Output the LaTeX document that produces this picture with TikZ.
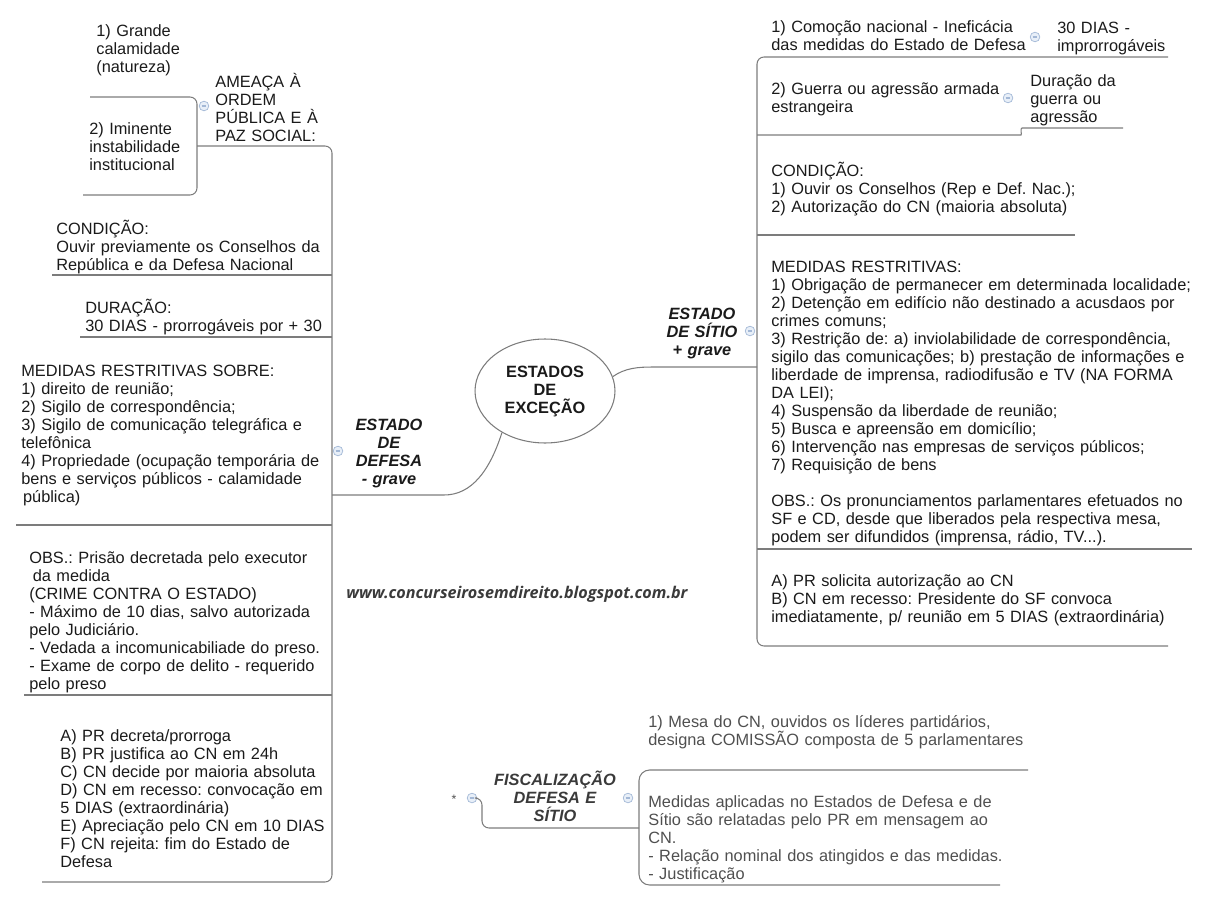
\documentclass[tikz,border=0pt]{standalone}
\usepackage{fontspec}
\setmainfont{Liberation Sans}
\newfontfamily\webfont{Open Sans}
\usetikzlibrary{shapes.geometric}

\definecolor{ink}{HTML}{1A1A1A}
\definecolor{ink2}{HTML}{4F4F4F}
\definecolor{ink3}{HTML}{3A3A3A}
\definecolor{wire}{HTML}{7C7C7C}
\definecolor{foldline}{HTML}{A3B8D6}
\definecolor{foldfill}{HTML}{E8EFF8}

\newcommand{\mmfont}{\fontsize{9.3}{10.24}\selectfont\lineskiplimit=-20pt\frenchspacing}

\begin{document}
\begin{tikzpicture}[x=0.02cm, y=-0.02cm,
    topic/.style={anchor=north west, text width=9cm, align=left, inner sep=0pt,
      font=\mmfont, text=ink, execute at begin node={\rule{0pt}{9pt}}},
    branch/.style={topic, anchor=north, text width=3cm, align=center,
      font=\mmfont\bfseries\itshape},
    fold/.style={circle, draw=foldline, fill=foldfill, line width=0.4pt,
      inner sep=0pt, minimum size=5.5pt, path picture={
        \draw[foldline, line width=0.6pt]
          ([xshift=-1.4pt]path picture bounding box.center) --
          ([xshift=1.4pt]path picture bounding box.center);}},
    link/.style={draw=wire, line width=0.6pt, rounded corners=4pt}]

    \useasboundingbox (0,0) rectangle (1209,902);

    \node[ellipse, draw=wire, line width=0.6pt, minimum width=2.8cm,
      minimum height=2.08cm, inner sep=0pt, align=center,
      font=\mmfont\bfseries, text=ink] (ctr) at (545,391) {ESTADOS\\DE\\EXCEÇÃO};

    % estado de defesa
    \node[branch] (defesa) at (389,414) {ESTADO\\DE\\DEFESA\\- grave};
    \node[fold] (defesaF) at (338,451) {};
    \coordinate (defJ) at (332,495);
    \draw[link] (ctr.224) .. controls (490,470) and (472,495) .. (437,495) -- (defJ);

    \coordinate (defTop) at (332,146);
    \coordinate (defBot) at (332,882);
    \draw[link] (197,146) -- (defTop) -- (defBot) -- (42,882);
    \draw[link] (52,275) -- (332,275);
    \draw[link] (80,337) -- (332,337);
    \draw[link] (16,525) -- (332,525);
    \draw[link] (24,695) -- (332,695);

    \node[topic] (ameaca) at (215,71) {AMEAÇA À\\ORDEM\\PÚBLICA E À\\PAZ SOCIAL:};
    \node[fold] (ameacaF) at (204,106) {};
    \draw[link] (90,97) -- (197,97) -- (197,195) -- (83,195);
    \node[topic] (calamidade) at (96,20) {1) Grande\\calamidade\\(natureza)};
    \node[topic] (instab) at (89,118) {2) Iminente\\instabilidade\\institucional};

    \node[topic] (condDef) at (56,218) {CONDIÇÃO:\\Ouvir previamente os Conselhos da\\República e da Defesa Nacional};
    \node[topic] (durDef) at (85,297) {DURAÇÃO:\\30 DIAS - prorrogáveis por + 30};
    \node[topic] (medDef) at (21,360) {MEDIDAS RESTRITIVAS SOBRE:\\1) direito de reunião;\\2) Sigilo de correspondência;\\3) Sigilo de comunicação telegráfica e\\telefônica\\4) Propriedade (ocupação temporária de\\bens e serviços públicos - calamidade\\\hspace{1pt}pública)};
    \node[topic] (obsDef) at (29,547) {OBS.: Prisão decretada pelo executor\\\hspace{2pt}da medida\\(CRIME CONTRA O ESTADO)\\- Máximo de 10 dias, salvo autorizada\\pelo Judiciário.\\- Vedada a incomunicabiliade do preso.\\- Exame de corpo de delito - requerido\\pelo preso};
    \node[topic] (ritoDef) at (60,725) {A) PR decreta/prorroga\\B) PR justifica ao CN em 24h\\C) CN decide por maioria absoluta\\D) CN em recesso: convocação em\\5 DIAS (extraordinária)\\E) Apreciação pelo CN em 10 DIAS\\F) CN rejeita: fim do Estado de\\Defesa};

    % estado de sitio
    \node[branch] (sitio) at (702,303) {ESTADO\\DE SÍTIO\\+ grave};
    \node[fold] (sitioF) at (750,331) {};
    \coordinate (sitJ) at (757,367);
    \draw[link] (ctr.12) .. controls (625,368) and (638,367) .. (660,367) -- (sitJ);

    \coordinate (sitTop) at (757,57);
    \coordinate (sitBot) at (757,646);
    \draw[link] (1168,57) -- (sitTop) -- (sitBot) -- (1168,646);
    \draw[link] (757,135) -- (1014,135) .. controls (1022,135) and (1020,128) .. (1029,128) -- (1123,128);
    \draw[link] (757,235) -- (1075,235);
    \draw[link] (757,549) -- (1192,549);

    \node[topic] (comocao) at (771,16) {1) Comoção nacional - Ineficácia\\das medidas do Estado de Defesa};
    \node[fold] (comocaoF) at (1035,37) {};
    \node[topic] (prazo30) at (1057,17) {30 DIAS -\\improrrogáveis};
    \node[topic] (guerra) at (771,78) {2) Guerra ou agressão armada\\estrangeira};
    \node[fold] (guerraF) at (1008,98) {};
    \node[topic] (prazoG) at (1030,70) {Duração da\\guerra ou\\agressão};
    \node[topic] (condSit) at (771,160) {CONDIÇÃO:\\1) Ouvir os Conselhos (Rep e Def. Nac.);\\2) Autorização do CN (maioria absoluta)};
    \node[topic] (medSit) at (771,256) {MEDIDAS RESTRITIVAS:\\1) Obrigação de permanecer em determinada localidade;\\2) Detenção em edifício não destinado a acusdaos por\\crimes comuns;\\3) Restrição de: a) inviolabilidade de correspondência,\\sigilo das comunicações; b) prestação de informações e\\liberdade de imprensa, radiodifusão e TV (NA FORMA\\DA LEI);\\4) Suspensão da liberdade de reunião;\\5) Busca e apreensão em domicílio;\\6) Intervenção nas empresas de serviços públicos;\\7) Requisição de bens\\[10.24pt]OBS.: Os pronunciamentos parlamentares efetuados no\\SF e CD, desde que liberados pela respectiva mesa,\\podem ser difundidos (imprensa, rádio, TV...).};
    \node[topic] (ritoSit) at (771,570) {A) PR solicita autorização ao CN\\B) CN em recesso: Presidente do SF convoca\\imediatamente, p/ reunião em 5 DIAS (extraordinária)};

    \node[font=\webfont\bfseries\itshape\fontsize{9.2}{11}\selectfont, text=ink3] (www) at (517,594) {www.concurseirosemdireito.blogspot.com.br};

    % fiscalizacao
    \node[branch, text=ink3] (fisc) at (555,769) {FISCALIZAÇÃO\\DEFESA E\\SÍTIO};
    \node[fold] (fiscL) at (472,798) {};
    \node[font=\fontsize{7}{8}\selectfont, text=ink2, inner sep=0pt] (star) at (454,799) {*};
    \node[fold] (fiscR) at (628,798) {};
    \coordinate (fiscJ) at (639,828);
    \draw[link] (fiscL.east) -- (482,798) -- (482,828) -- (fiscJ);
    \draw[link, rounded corners=6pt] (1028,770) -- (639,770) -- (639,885) -- (1000,885);
    \node[topic, text=ink2] (comissao) at (648,711) {1) Mesa do CN, ouvidos os líderes partidários,\\designa COMISSÃO composta de 5 parlamentares};
    \node[topic, text=ink2] (relato) at (648,791) {Medidas aplicadas no Estados de Defesa e de\\Sítio são relatadas pelo PR em mensagem ao\\CN.\\- Relação nominal dos atingidos e das medidas.\\- Justificação};
\end{tikzpicture}
\end{document}
